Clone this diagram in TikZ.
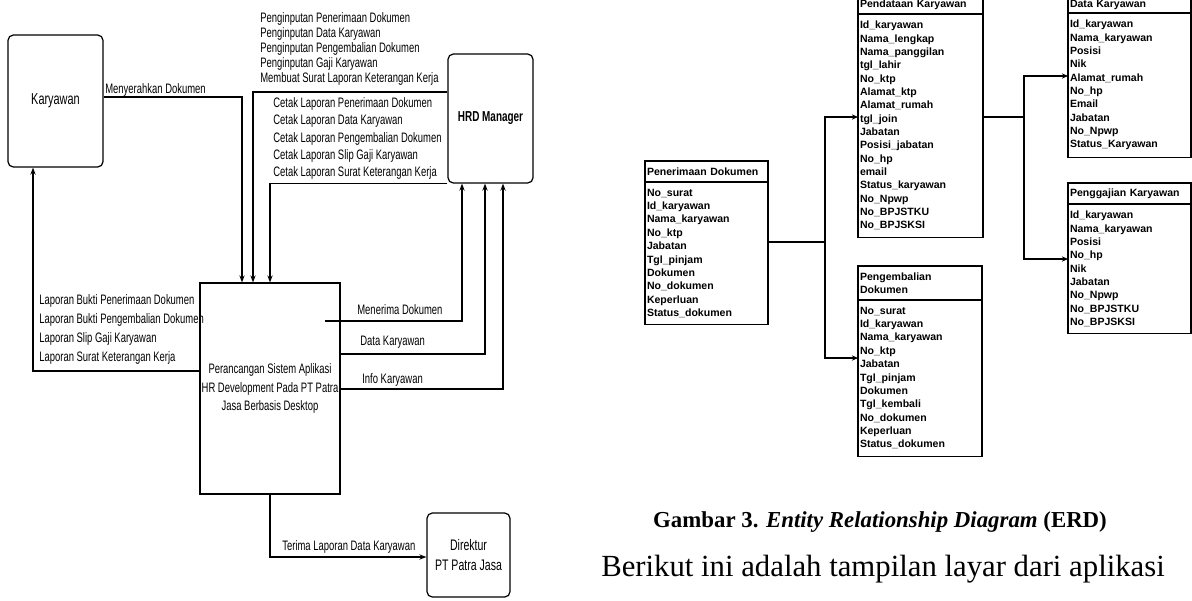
\documentclass[tikz,border=0pt]{standalone}
\usepackage{fontspec}
\setmainfont{Liberation Serif}
\newfontfamily\dfdfont[FakeStretch=0.69]{Liberation Sans}
\newfontfamily\erdfont{Liberation Sans}
\usetikzlibrary{positioning,arrows.meta}
\begin{document}
\begin{tikzpicture}
    [x=0.02cm, y=-0.02cm,
    entitas/.style = {draw, rounded corners=3pt, line width=0.7pt, align=center,
                      inner sep=1pt, font=\dfdfont\fontsize{8.7pt}{11pt}\selectfont},
    proses/.style = {draw, line width=0.7pt, align=center, inner sep=1pt,
                     font=\dfdfont\fontsize{7.8pt}{10.5pt}\selectfont},
    alur/.style = {line width=0.7pt, -{Stealth[length=4pt,width=3pt]}},
    ket/.style = {anchor=north west, inner sep=0pt, align=left,
                  font=\dfdfont\fontsize{7.8pt}{#1}\selectfont},
    judul/.style = {draw, line width=0.6pt, anchor=north west, align=left,
                    text width=#1, inner xsep=0.04cm, inner ysep=0pt, outer sep=0pt,
                    minimum height=0.42cm,
                    font=\erdfont\bfseries\fontsize{6pt}{7.6pt}\selectfont},
    tabel/.style = {draw, line width=0.6pt, align=left, text width=#1,
                    inner xsep=0.04cm, inner ysep=4pt, outer sep=0pt,
                    font=\erdfont\bfseries\fontsize{6pt}{7.6pt}\selectfont},
    relasi/.style = {line width=0.6pt},
    panah/.style = {line width=0.6pt, -{Stealth[length=3.5pt,width=3pt]}}]
    \useasboundingbox (0,0) rectangle (1192,600);
    \clip (0,0) rectangle (1192,600);
    % Entitas luar
    \node[entitas, minimum width=1.9cm, minimum height=2.64cm,
          font=\dfdfont\fontsize{9pt}{11pt}\selectfont] (karyawan) at (55.5,101) {Karyawan};
    \node[entitas, minimum width=1.7cm, minimum height=2.58cm,
          font=\dfdfont\bfseries\fontsize{8.2pt}{10pt}\selectfont] (hrd) at (490.5,118.5) {HRD Manager};
    \node[entitas, minimum width=1.66cm, minimum height=1.68cm] (direktur) at (468.5,555) {Direktur\\PT Patra Jasa};
    % Proses
    \node[proses, minimum width=2.8cm, minimum height=4.22cm] (sistem) at (270,388.5)
        {Perancangan Sistem Aplikasi\\HR Development Pada PT Patra\\Jasa Berbasis Desktop};
    \coordinate (terima-awal) at (325,321);
    % Alur data
    \draw[alur] (karyawan.east |- 0,97) -| (sistem.north -| 242,0);
    \draw[alur] (hrd.west |- 0,92) -| (sistem.north -| 253,0);
    \draw[alur] (hrd.south west) -| (sistem.north -| 270,0);
    \draw[alur] (terima-awal) -| (hrd.south -| 462,0);
    \draw[alur] (sistem.east |- 0,354) -| (hrd.south -| 485,0);
    \draw[alur] (sistem.east |- 0,389) -| (hrd.south -| 503,0);
    \draw[alur] (sistem.west |- 0,371) -| (karyawan.south -| 33,0);
    \draw[alur] (sistem.south) |- (direktur.west |- 0,557);
    % Keterangan alur
    \node[ket=8.5pt] (k-serah) at (105,83) {Menyerahkan Dokumen};
    \node[ket=8.5pt] (k-input) at (260,12) {Penginputan Penerimaan Dokumen\\Penginputan Data Karyawan\\Penginputan Pengembalian Dokumen\\Penginputan Gaji Karyawan\\Membuat Surat Laporan Keterangan Kerja};
    \node[ket=9.9pt] (k-cetak) at (273,97) {Cetak Laporan Penerimaan Dokumen\\Cetak Laporan Data Karyawan\\Cetak Laporan Pengembalian Dokumen\\Cetak Laporan Slip Gaji Karyawan\\Cetak Laporan Surat Keterangan Kerja};
    \node[ket=10.9pt] (k-laporan) at (39,294) {Laporan Bukti Penerimaan Dokumen\\Laporan Bukti Pengembalian Dokumen\\Laporan Slip Gaji Karyawan\\Laporan Surat Keterangan Kerja};
    \node[ket=8.5pt] (k-menerima) at (357,304) {Menerima Dokumen};
    \node[ket=8.5pt] (k-data) at (360,336) {Data Karyawan};
    \node[ket=8.5pt] (k-info) at (362,373) {Info Karyawan};
    \node[ket=8.5pt] (k-direktur) at (282,540) {Terima Laporan Data Karyawan};
    % Tabel ERD
    \node[judul=2.38cm] (penerimaan-judul) at (645,161) {Penerimaan Dokumen};
    \node[tabel=2.38cm, below=0pt of penerimaan-judul] (penerimaan)
        {No\_surat\\Id\_karyawan\\Nama\_karyawan\\No\_ktp\\Jabatan\\Tgl\_pinjam\\Dokumen\\No\_dokumen\\Keperluan\\Status\_dokumen};
    \node[judul=2.42cm, minimum height=0.36cm] (pendataan-judul) at (858,-4) {Pendataan Karyawan};
    \node[tabel=2.42cm, below=0pt of pendataan-judul] (pendataan)
        {Id\_karyawan\\Nama\_lengkap\\Nama\_panggilan\\tgl\_lahir\\No\_ktp\\Alamat\_ktp\\Alamat\_rumah\\tgl\_join\\Jabatan\\Posisi\_jabatan\\No\_hp\\email\\Status\_karyawan\\No\_Npwp\\No\_BPJSTKU\\No\_BPJSKSI};
    \node[judul=2.40cm, minimum height=0.68cm] (pengembalian-judul) at (858,266) {Pengembalian\\Dokumen};
    \node[tabel=2.40cm, below=0pt of pengembalian-judul] (pengembalian)
        {No\_surat\\Id\_karyawan\\Nama\_karyawan\\No\_ktp\\Jabatan\\Tgl\_pinjam\\Dokumen\\Tgl\_kembali\\No\_dokumen\\Keperluan\\Status\_dokumen};
    \node[judul=2.38cm, minimum height=0.34cm] (datakar-judul) at (1068,-4) {Data Karyawan};
    \node[tabel=2.38cm, below=0pt of datakar-judul] (datakar)
        {Id\_karyawan\\Nama\_karyawan\\Posisi\\Nik\\Alamat\_rumah\\No\_hp\\Email\\Jabatan\\No\_Npwp\\Status\_Karyawan};
    \node[judul=2.38cm] (penggajian-judul) at (1068,183) {Penggajian Karyawan};
    \node[tabel=2.38cm, below=0pt of penggajian-judul] (penggajian)
        {Id\_karyawan\\Nama\_karyawan\\Posisi\\No\_hp\\Nik\\Jabatan\\No\_Npwp\\No\_BPJSTKU\\No\_BPJSKSI};
    % Relasi
    \coordinate (cabang1) at (825,242);
    \coordinate (cabang2) at (1024,117);
    \draw[relasi] (penerimaan.east |- cabang1) -- (cabang1);
    \draw[panah] (cabang1) |- (pendataan.west |- 0,117);
    \draw[panah] (cabang1) |- (pengembalian.west |- 0,358);
    \draw[relasi] (pendataan.east |- cabang2) -- (cabang2);
    \draw[panah] (cabang2) |- (datakar.west |- 0,76);
    \draw[panah] (cabang2) |- (penggajian.west |- 0,259);
    % Teks
    \node[font=\bfseries\fontsize{13pt}{15pt}\selectfont] (gambar) at (880,522)
        {Gambar 3. \textit{Entity Relationship Diagram} (ERD)};
    \node[font=\fontsize{17.5pt}{20pt}\selectfont] (paragraf) at (883,569)
        {Berikut ini adalah tampilan layar dari aplikasi};
\end{tikzpicture}
\end{document}
